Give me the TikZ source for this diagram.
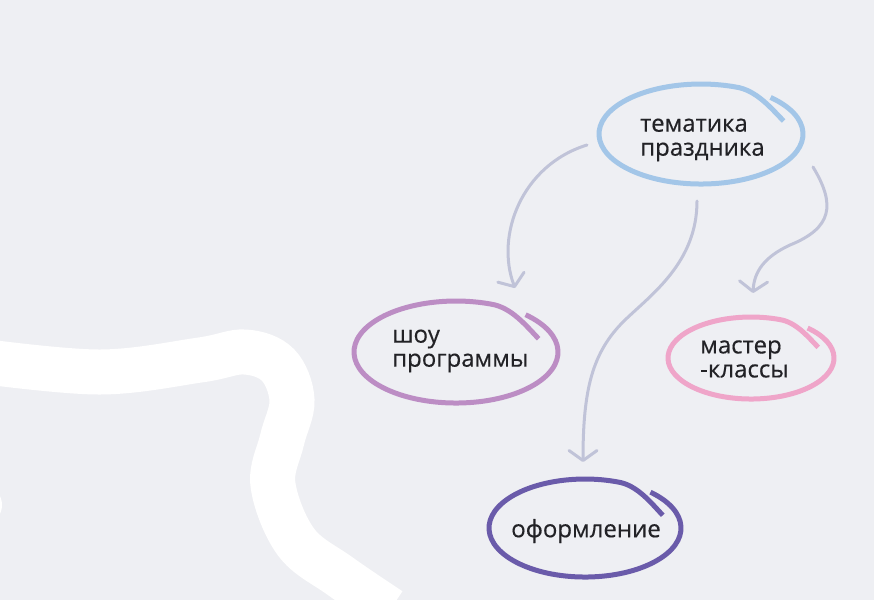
\documentclass[tikz,border=0pt]{standalone}
\usepackage{fontspec}
\setmainfont{Open Sans}
\newfontfamily\lblfont[FakeBold=0.4]{Open Sans}
\usetikzlibrary{arrows.meta}
\definecolor{bg}{RGB}{238,239,243}
\definecolor{cblue}{RGB}{163,198,232}
\definecolor{cpurple}{RGB}{188,141,196}
\definecolor{cpink}{RGB}{239,165,201}
\definecolor{cviolet}{RGB}{106,91,170}
\definecolor{carrow}{RGB}{192,195,216}
\definecolor{ctext}{RGB}{34,34,38}
\tikzset{
  loop/.style={line width=5pt},
  lbl/.style={text=ctext, font=\lblfont\fontsize{24}{24}\selectfont, align=left, inner sep=0pt},
  conn/.style={draw=carrow, line width=3pt, line cap=round,
     -{Straight Barb[length=10pt,width=28pt,line width=3pt,round]}},
}
% hand-drawn loop: colour, centre x, centre y, x radius, y radius
\newcommand\handloop[5]{%
  \draw[loop,#1] ({#2+0.682*#4},{#3-0.731*#5})
    arc[start angle=-47,end angle=290,x radius=#4,y radius=#5]
    .. controls +({0.2*#4},{0.06*#5}) and +({-0.12*#4},{-0.25*#5}) .. ({#2+0.81*#4},{#3-0.26*#5});%
}
\begin{document}
\begin{tikzpicture}[x=1pt,y=-1pt]
\useasboundingbox (0,0) rectangle (874,600);
\fill[bg] (0,0) rectangle (874,600);
\begin{scope}
\clip (0,0) rectangle (874,600);
\draw[white, line width=45pt] plot[smooth, tension=0.6] coordinates {(-20,361) (100,372) (200,360) (245,352) (278,365) (292,400) (282,440) (273,485) (296,542) (340,576) (390,610)};
\fill[white] (-12,505) ellipse [x radius=14pt, y radius=17pt];
\end{scope}

% loops
\handloop{cblue}{701}{134}{102}{50}
\handloop{cpurple}{456}{352}{102}{51}
\handloop{cpink}{751}{358}{83}{41}
\handloop{cviolet}{585}{528}{96}{49}

% labels
\node[lbl, anchor=west] (tema) at (640,140) {тематика\\праздника};
\node[lbl, anchor=west] (shou) at (392,351) {шоу\\программы};
\node[lbl, anchor=west] (master) at (700,359) {мастер\\-классы};
\node[lbl] (oform) at (586,531) {оформление};

% connectors
\coordinate (a1s) at (587,145);
\coordinate (a1e) at (515,288);
\coordinate (a2s) at (697,201);
\coordinate (a2e) at (583,462);
\coordinate (a3s) at (813,167);
\coordinate (a3e) at (753,293);
\draw[conn] (a1s) .. controls (522,165) and (495,235) .. (a1e);
\draw[conn] (a2s) .. controls (697,262) and (652,294) .. (625,320) .. controls (592,352) and (583,390) .. (a2e);
\draw[conn] (a3s) .. controls (836,205) and (832,228) .. (790,245) .. controls (764,257) and (754,272) .. (a3e);
\end{tikzpicture}
\end{document}
